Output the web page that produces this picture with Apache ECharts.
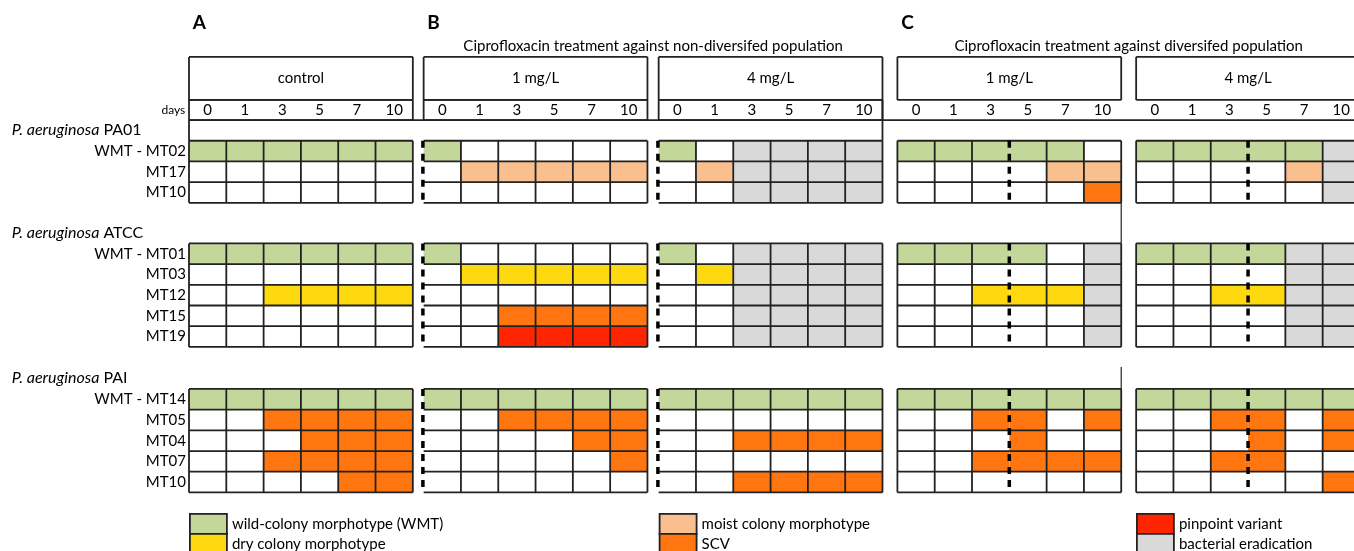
<!DOCTYPE html>
<html><head><meta charset="utf-8">
<script src="https://cdn.jsdelivr.net/npm/echarts@6/dist/echarts.min.js"></script>
<style>html,body{margin:0;padding:0;background:#fff}#c{width:1354px;height:551px}</style>
</head><body><div id="c"></div>
<script>
// ---------- data ----------
const days = ['0', '1', '3', '5', '7', '10'];
const panelLabels = ['control', '1 mg/L', '4 mg/L', '1 mg/L', '4 mg/L'];
const panelLetters = ['A', 'B', 'C'];
const sectionTitles = ['Ciprofloxacin treatment against non-diversifed population', 'Ciprofloxacin treatment against diversifed population'];
const strainNames = ['PA01', 'ATCC', 'PAI'];
const pa01Rows = ['WMT - MT02', 'MT17', 'MT10'];
const atccRows = ['WMT - MT01', 'MT03', 'MT12', 'MT15', 'MT19'];
const paiRows = ['WMT - MT14', 'MT05', 'MT04', 'MT07', 'MT10'];
const stateNames = ['wild-colony morphotype (WMT)', 'dry colony morphotype', 'moist colony morphotype', 'SCV', 'pinpoint variant', 'bacterial eradication'];
const stateCodes = ['W', 'D', 'M', 'S', 'P', 'E'];   // '0' = no colony morphotype
// per row: [control, B 1 mg/L, B 4 mg/L, C 1 mg/L, C 4 mg/L], one letter per day
const pa01States = [
  ['WWWWWW', 'W00000', 'W0EEEE', 'WWWWW0', 'WWWWWE'],
  ['000000', '0MMMMM', '0MEEEE', '0000MM', '0000ME'],
  ['000000', '000000', '00EEEE', '00000S', '00000E']
];
const atccStates = [
  ['WWWWWW', 'W00000', 'W0EEEE', 'WWWW0E', 'WWWWEE'],
  ['000000', '0DDDDD', '0DEEEE', '00000E', '0000EE'],
  ['00DDDD', '000000', '00EEEE', '00DDDE', '00DDEE'],
  ['000000', '00SSSS', '00EEEE', '00000E', '0000EE'],
  ['000000', '00PPPP', '00EEEE', '00000E', '0000EE']
];
const paiStates = [
  ['WWWWWW', 'WWWWWW', 'WWWWWW', 'WWWWWW', 'WWWWWW'],
  ['00SSSS', '00SSSS', '000000', '00SS0S', '00SS0S'],
  ['000SSS', '0000SS', '00SSSS', '000S00', '000S0S'],
  ['00SSSS', '00000S', '000000', '00SSSS', '00SS00'],
  ['0000SS', '000000', '00SSSS', '000000', '00000S']
];

// ---------- layout (units: x = one day column, y = one row) ----------
const stateColors = ['#C4D79B', '#FFD90F', '#FABF8F', '#FF750F', '#FF2500', '#D9D9D9'];
const FONT = 'Lato, "Noto Sans", sans-serif';
const PANEL_X = [0, 6.29, 12.59, 18.99, 25.39];
const GROUP_Y = [6.80, 11.76, 18.79];
const HEAD_TOP = 2.75, HEAD_BOT = 4.83, DAYS_BOT = 5.80;
const LINE = '#222';

const strainRowNames = [pa01Rows, atccRows, paiRows];
const strainStates = [pa01States, atccStates, paiStates];

// cells per state
const cellData = stateNames.map(() => []);
const emptyCells = [];
strainStates.forEach((rows, g) => {
  rows.forEach((panels, r) => {
    panels.forEach((str, p) => {
      for (let i = 0; i < days.length; i++) {
        const item = [PANEL_X[p] + i, GROUP_Y[g] + r];
        const k = stateCodes.indexOf(str[i]);
        if (k < 0) emptyCells.push(item); else cellData[k].push(item);
      }
    });
  });
});

function cellRender(color) {
  return function (params, api) {
    const a = api.coord([api.value(0), api.value(1)]);
    const b = api.coord([api.value(0) + 1, api.value(1) + 1]);
    return { type: 'rect', shape: { x: a[0], y: a[1], width: b[0] - a[0], height: b[1] - a[1] }, style: { fill: color } };
  };
}

function frameRender(params, api) {
  const P = (x, y) => api.coord([x, y]);
  const ch = [];
  const line = (x1, y1, x2, y2, w, dash) => {
    const a = P(x1, y1), b = P(x2, y2);
    ch.push({ type: 'line', shape: { x1: a[0], y1: a[1], x2: b[0], y2: b[1] },
      style: { stroke: dash ? '#000' : LINE, lineWidth: w || 1.8, lineDash: dash || null, lineCap: 'butt' } });
  };
  const text = (s, x, y, align, size, extra) => {
    const a = P(x, y);
    ch.push({ type: 'text', style: Object.assign({ text: s, x: a[0], y: a[1], align: align, verticalAlign: 'middle',
      textAlign: align, textVerticalAlign: 'middle', fontSize: size, fontFamily: FONT, fill: '#000' }, extra || {}) });
  };
  const rectBox = (x1, y1, x2, y2) => { line(x1, y1, x2, y1); line(x2, y1, x2, y2); line(x2, y2, x1, y2); line(x1, y2, x1, y1); };

  // grid lines of the cell blocks
  strainRowNames.forEach((rows, g) => {
    const y0 = GROUP_Y[g], y1 = y0 + rows.length;
    PANEL_X.forEach((x0, p) => {
      for (let r = 0; r <= rows.length; r++) line(x0, y0 + r, x0 + 6, y0 + r);
      for (let i = 0; i <= 6; i++) {
        if ((p === 1 || p === 2) && i === 0) continue;
        if ((p === 3 || p === 4) && i === 3) continue;
        line(x0 + i, y0, x0 + i, y1);
      }
      if (p === 1 || p === 2) line(x0 - 0.02, y0, x0 - 0.02, y1, 3.5, [7, 6]);
      if (p === 3 || p === 4) line(x0 + 3, y0, x0 + 3, y1, 3.5, [7, 6]);
    });
    rows.forEach((name, r) => text(name, -0.08, y0 + r + 0.5, 'right', 15));
    text('{i|P. aeruginosa} ' + strainNames[g], -4.75, y0 - 0.53, 'left', 16,
      { rich: { i: { fontStyle: 'italic', fontSize: 16, fontFamily: FONT, fill: '#000' } } });
  });

  // header boxes
  PANEL_X.forEach((x0, p) => {
    rectBox(x0, HEAD_TOP, x0 + 6, HEAD_BOT);
    if (p < 3) rectBox(x0, HEAD_BOT, x0 + 6, DAYS_BOT);
    text(panelLabels[p], x0 + 3, (HEAD_TOP + HEAD_BOT) / 2, 'center', 15);
    days.forEach((d, i) => text(d, x0 + i + 0.5, (HEAD_BOT + DAYS_BOT) / 2, 'center', 15));
  });
  text('days', -0.1, (HEAD_BOT + DAYS_BOT) / 2, 'right', 12);
  // blank strain row frame and connectors
  line(0, DAYS_BOT, 32, DAYS_BOT);
  line(0, DAYS_BOT, 0, GROUP_Y[0]);
  line(PANEL_X[2] + 6, HEAD_BOT, PANEL_X[2] + 6, GROUP_Y[0]);
  line(PANEL_X[3] + 6, GROUP_Y[0] + 3, PANEL_X[3] + 6, GROUP_Y[1], 1.2);
  line(PANEL_X[3] + 6, GROUP_Y[2] - 1.06, PANEL_X[3] + 6, GROUP_Y[2], 1.2);

  // section letters and titles
  [PANEL_X[0], PANEL_X[1], PANEL_X[3]].forEach((x0, k) =>
    text(panelLetters[k], x0 + 0.1, 1.12, 'left', 19, { fontWeight: 'bold' }));
  text(sectionTitles[0], (PANEL_X[1] + PANEL_X[2] + 6) / 2, 2.22, 'center', 15);
  text(sectionTitles[1], (PANEL_X[3] + PANEL_X[4] + 6) / 2, 2.22, 'center', 15);
  return { type: 'group', children: ch };
}

const series = [{ type: 'custom', name: 'none', coordinateSystem: 'cartesian2d', data: emptyCells,
  renderItem: cellRender('#ffffff'), z: 1, silent: true }];
stateNames.forEach((n, k) => series.push({ type: 'custom', name: n, coordinateSystem: 'cartesian2d', data: cellData[k],
  renderItem: cellRender(stateColors[k]), itemStyle: { color: stateColors[k] }, z: 2, silent: true }));
series.push({ type: 'custom', name: 'frame', coordinateSystem: 'cartesian2d', data: [[0, 0]],
  renderItem: frameRender, z: 3, silent: true, clip: false });

const legendLeft = [189, 658.7, 1136];
const legendTop = [513, 533];
const legends = stateNames.map((n, k) => ({
  left: legendLeft[Math.floor(k / 2)], top: legendTop[k % 2], data: [n],
  orient: 'vertical', itemWidth: 37, itemHeight: 20, itemGap: 0, icon: 'rect', padding: 0,
  itemTextGap: 4, selectedMode: false, textStyle: { fontSize: 15, fontFamily: FONT, color: '#000' },
  itemStyle: { borderColor: '#222', borderWidth: 1.8 }
}));

const chart = echarts.init(document.getElementById('c'), null, { renderer: 'canvas' });
chart.setOption({
  animation: false,
  grid: { left: 189, right: 0, top: 0, bottom: 0 },
  xAxis: { type: 'value', min: 0, max: 31.23, show: false },
  yAxis: { type: 'value', min: 0, max: 26.62, inverse: true, show: false },
  legend: legends,
  series: series
});
</script></body></html>
